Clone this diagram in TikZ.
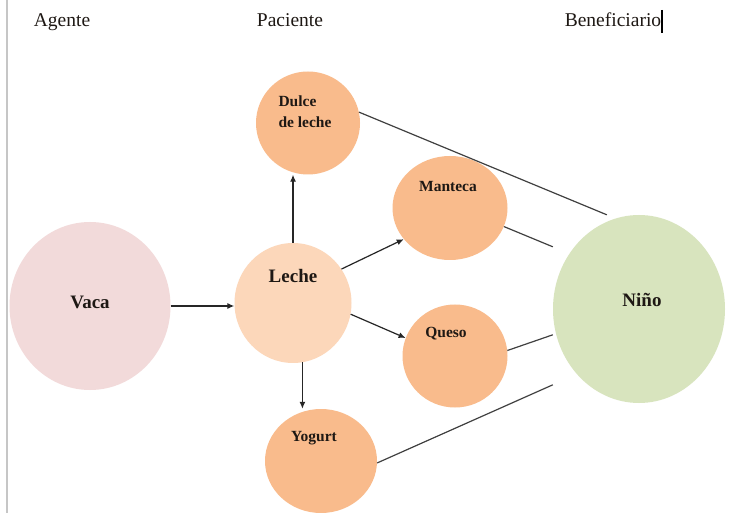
\documentclass[tikz,border=0pt]{standalone}
\usepackage{fontspec}
\setmainfont{Liberation Serif}
\usepackage{tikz}
\usetikzlibrary{arrows.meta,shapes.geometric}
\usepackage{xcolor}
\definecolor{cowpink}{RGB}{242, 218, 218}
\definecolor{milkpeach}{RGB}{252, 215, 186}
\definecolor{prodorange}{RGB}{249, 187, 140}
\definecolor{kidgreen}{RGB}{216, 228, 190}
\definecolor{inkdark}{RGB}{30, 24, 20}

\tikzset{
  bubble/.style={ellipse, inner sep=0pt, draw=none},
  headtxt/.style={anchor=base, text=inkdark, font=\fontsize{19.5}{22}\selectfont},
  bigtxt/.style={text=inkdark, font=\fontsize{19}{22}\selectfont\bfseries},
  smalltxt/.style={text=inkdark, font=\fontsize{15.5}{21}\selectfont\bfseries},
  arr/.style={-{Latex[length=7pt, width=6pt]}, line width=1.2pt, black!85},
  link/.style={line width=1.2pt, black!75}
}

\begin{document}
\begin{tikzpicture}[x=1pt, y=-1pt]
  \useasboundingbox (0,0) rectangle (729,513);
  \fill[white] (0,0) rectangle (729,513);
  \draw[gray!45, line width=2pt] (7,0) -- (7,513);

  % column titles
  \node[headtxt] (agente) at (62,27) {Agente};
  \node[headtxt] (paciente) at (290,27) {Paciente};
  \node[headtxt] (benef) at (613,27) {Beneficiario};
  \draw[line width=1.5pt, black] (662,10) -- (662,33);

  % circles
  \node[bubble, fill=cowpink, minimum width=161pt, minimum height=168pt] (vaca) at (90,306) {};
  \node[bubble, fill=milkpeach, minimum width=117pt, minimum height=120pt] (leche) at (293,303) {};
  \node[bubble, fill=prodorange, minimum width=104pt, minimum height=103pt] (dulce) at (308,123) {};
  \node[bubble, fill=prodorange, minimum width=115pt, minimum height=104pt] (manteca) at (450,208) {};
  \node[bubble, fill=prodorange, minimum width=105pt, minimum height=103pt] (queso) at (455,356) {};
  \node[bubble, fill=prodorange, minimum width=112pt, minimum height=104pt] (yogurt) at (321,461) {};
  \node[bubble, fill=kidgreen, minimum width=172pt, minimum height=188pt] (nino) at (639,309) {};
  \coordinate (ninoNW) at (nino.north -| nino.west);

  % labels
  \node[bigtxt] (vacaT) at (90,302) {Vaca};
  \node[bigtxt] (lecheT) at (293,276) {Leche};
  \node[smalltxt, align=left] (dulceT) at (305,112) {Dulce\\de leche};
  \node[smalltxt] (mantecaT) at (448,187) {Manteca};
  \node[smalltxt] (quesoT) at (446,334) {Queso};
  \node[smalltxt] (yogurtT) at (314,438) {Yogurt};
  \node[bigtxt] (ninoT) at (642,300) {Niño};

  % arrows
  \draw[arr] (vaca.east) -- (vaca.east -| leche.west);
  \draw[arr] (leche.north) -- (leche.north |- dulce.south);
  \draw[arr] (leche.35) -- (manteca.214);
  \draw[arr] (leche.-11) -- (queso.160);
  \draw[arr] (leche.-81) -- (leche.-81 |- yogurt.north);

  % links to the child
  \draw[link] (dulce.12) -- ([xshift=54pt]ninoNW);
  \draw[link] (manteca.-19) -- ([yshift=-32pt]ninoNW);
  \draw[link] (queso.6) -- ([yshift=-120pt]ninoNW);
  \draw[link] (yogurt.-2) -- ([yshift=-170pt]ninoNW);
\end{tikzpicture}
\end{document}
